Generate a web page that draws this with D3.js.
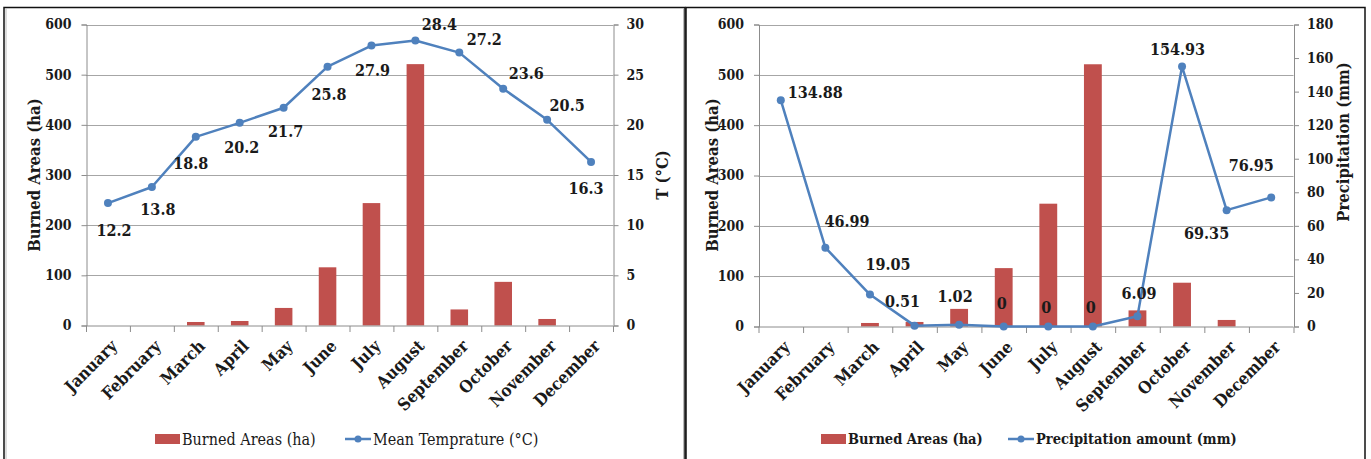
<!DOCTYPE html>
<html>
<head>
<meta charset="utf-8">
<script src="https://cdn.jsdelivr.net/npm/d3@7"></script>
<style>
  html, body { margin: 0; padding: 0; background: #ffffff; }
  svg { display: block; }
  text { font-family: "DejaVu Serif Condensed", "DejaVu Serif", serif; fill: #1a1a1a; }
</style>
</head>
<body>
<svg id="chart" width="1371" height="459"></svg>
<script>
// ---------- DATA ----------
const months = ["January","February","March","April","May","June","July","August","September","October","November","December"];
const burnedAreas = [0, 0, 7, 9, 35, 116, 244, 521, 32, 87, 13, 0];
const meanTemp = [12.2, 13.8, 18.8, 20.2, 21.7, 25.8, 27.9, 28.4, 27.2, 23.6, 20.5, 16.3];
const precipitation = [134.88, 46.99, 19.05, 0.51, 1.02, 0, 0, 0, 6.09, 154.93, 69.35, 76.95];
const burnedTicks = [0, 100, 200, 300, 400, 500, 600];
const tempTicks = [0, 5, 10, 15, 20, 25, 30];
const precipTicks = [0, 20, 40, 60, 80, 100, 120, 140, 160, 180];
const tempLabels = ["12.2","13.8","18.8","20.2","21.7","25.8","27.9","28.4","27.2","23.6","20.5","16.3"];
const precipLabels = ["134.88","46.99","19.05","0.51","1.02","0","0","0","6.09","154.93","69.35","76.95"];

// label offsets (dx, dy) relative to point, for label centre
const tempLabelOffsets = [[6,27],[6,22],[-5,27],[2,25],[2,24],[1.5,28],[1,25],[24,-16.5],[25,-13],[23,-15],[20,-14],[-5,26]];
const precipLabelOffsets = [[34.5,-7.5],[21.7,-26],[18,-30],[-12,-24],[-4,-28],[-2,-23],[-2,-19],[-2,-19],[1.5,-23],[-4.6,-17],[-20,23],[-20,-32]];

const RED = "#c0504d", BLUE = "#4f81bd", GRID = "#a6a6a6", AXIS = "#8c8c8c";
const FONT = '"DejaVu Serif Condensed", "DejaVu Serif", serif';

const svg = d3.select("#chart");

// panel borders
svg.append("rect").attr("x", 4).attr("y", 7.5).attr("width", 681).attr("height", 460)
  .attr("fill", "none").attr("stroke", "#111").attr("stroke-width", 1.5);
svg.append("rect").attr("x", 686).attr("y", 7.5).attr("width", 679).attr("height", 460)
  .attr("fill", "none").attr("stroke", "#111").attr("stroke-width", 1.5);
svg.append("line").attr("x1", 683.5).attr("x2", 683.5).attr("y1", 8).attr("y2", 459).attr("stroke", "#bbb").attr("stroke-width", 1);
svg.append("line").attr("x1", 6).attr("x2", 6).attr("y1", 8).attr("y2", 459).attr("stroke", "#bbb").attr("stroke-width", 1);

function drawPanel(cfg) {
  const g = svg.append("g");
  const x = d3.scaleBand().domain(months).range([cfg.x0, cfg.x1]).paddingInner(0).paddingOuter(0);
  const yL = d3.scaleLinear().domain([0, 600]).range([cfg.yb, cfg.yt]);
  const yR = d3.scaleLinear().domain([0, cfg.rMax]).range([cfg.yb, cfg.yt]);

  // gridlines
  g.append("g").selectAll("line").data(burnedTicks.filter(d => d > 0)).join("line")
    .attr("x1", cfg.x0).attr("x2", cfg.x1)
    .attr("y1", d => Math.round(yL(d)) + 0.5).attr("y2", d => Math.round(yL(d)) + 0.5)
    .attr("stroke", GRID).attr("stroke-width", 1);

  // bars
  const bw = x.bandwidth() * 0.4;
  g.append("g").selectAll("rect").data(burnedAreas).join("rect")
    .attr("x", (d, i) => x(months[i]) + (x.bandwidth() - bw) / 2)
    .attr("width", bw)
    .attr("y", d => yL(d))
    .attr("height", d => cfg.yb - yL(d))
    .attr("fill", RED);

  // left axis
  const axL = g.append("g").attr("transform", `translate(${cfg.x0 + 0.5},0)`)
    .call(d3.axisLeft(yL).tickValues(burnedTicks).tickSize(5).tickPadding(10));
  axL.select(".domain").attr("stroke", AXIS);
  axL.selectAll(".tick line").attr("stroke", AXIS);
  axL.selectAll(".tick text").attr("font-size", 14).attr("font-weight", "bold")
    .attr("font-family", FONT).attr("fill", "#1a1a1a");

  // right axis
  const axR = g.append("g").attr("transform", `translate(${cfg.x1 + 0.5},0)`)
    .call(d3.axisRight(yR).tickValues(cfg.rTicks).tickSize(5).tickPadding(8));
  axR.select(".domain").attr("stroke", AXIS);
  axR.selectAll(".tick line").attr("stroke", AXIS);
  axR.selectAll(".tick text").attr("font-size", 14).attr("font-weight", "bold")
    .attr("font-family", FONT).attr("fill", "#1a1a1a");

  // bottom axis
  const axB = g.append("g").attr("transform", `translate(0,${cfg.yb + 0.5})`);
  axB.append("line").attr("x1", cfg.x0).attr("x2", cfg.x1).attr("stroke", AXIS);
  axB.selectAll("line.tk").data(d3.range(months.length + 1)).join("line").attr("class", "tk")
    .attr("x1", i => (i < months.length ? x(months[i]) : cfg.x1) + 0.5)
    .attr("x2", i => (i < months.length ? x(months[i]) : cfg.x1) + 0.5)
    .attr("y1", 0).attr("y2", 6).attr("stroke", AXIS);
  axB.selectAll("text").data(months).join("text")
    .attr("transform", d => `translate(${x(d) + x.bandwidth() / 2 + 6},17) rotate(-45)`)
    .attr("text-anchor", "end").attr("dy", "0.35em")
    .attr("font-size", 16.8).attr("font-weight", "bold").text(d => d);

  // line series
  const vals = cfg.series;
  const line = d3.line().x((d, i) => x(months[i]) + x.bandwidth() / 2).y(d => yR(d));
  g.append("path").datum(vals).attr("d", line).attr("fill", "none")
    .attr("stroke", BLUE).attr("stroke-width", 2.5).attr("stroke-linejoin", "round");
  g.append("g").selectAll("circle").data(vals).join("circle")
    .attr("cx", (d, i) => x(months[i]) + x.bandwidth() / 2).attr("cy", d => yR(d))
    .attr("r", 4).attr("fill", BLUE);

  // data labels
  g.append("g").selectAll("text").data(vals).join("text")
    .attr("x", (d, i) => x(months[i]) + x.bandwidth() / 2 + cfg.offsets[i][0])
    .attr("y", (d, i) => yR(d) + cfg.offsets[i][1])
    .attr("dy", "0.35em").attr("text-anchor", "middle")
    .attr("font-size", 16).attr("font-weight", "bold")
    .text((d, i) => cfg.labels[i]);

  // axis titles
  g.append("text").attr("transform", `translate(${cfg.leftTitleX},${cfg.leftTitleY}) rotate(-90)`)
    .attr("text-anchor", "middle").attr("dy", "0.35em")
    .attr("font-size", 16.5).attr("font-weight", "bold").text("Burned Areas (ha)");
  g.append("text").attr("transform", `translate(${cfg.rightTitleX},${cfg.rightTitleY}) rotate(-90)`)
    .attr("text-anchor", "middle").attr("dy", "0.35em")
    .attr("font-size", 16.5).attr("font-weight", "bold").text(cfg.rightTitle);

  // legend
  const lg = g.append("g");
  lg.append("rect").attr("x", cfg.legRectX).attr("y", 434).attr("width", 25).attr("height", 10).attr("fill", RED);
  lg.append("text").attr("x", cfg.legRectX + 27).attr("y", 439).attr("dy", "0.35em")
    .attr("font-size", cfg.legSize).attr("font-weight", cfg.legWeight).text("Burned Areas (ha)");
  lg.append("line").attr("x1", cfg.legLineX).attr("x2", cfg.legLineX + 26).attr("y1", 439).attr("y2", 439)
    .attr("stroke", BLUE).attr("stroke-width", 2.5);
  lg.append("circle").attr("cx", cfg.legLineX + 13).attr("cy", 439).attr("r", 3.5).attr("fill", BLUE);
  lg.append("text").attr("x", cfg.legLineX + 28).attr("y", 439).attr("dy", "0.35em")
    .attr("font-size", cfg.legSize).attr("font-weight", cfg.legWeight).text(cfg.lineLegend);
}

drawPanel({
  x0: 86, x1: 613, yt: 24.5, yb: 325.5,
  rMax: 30, rTicks: tempTicks, series: meanTemp, labels: tempLabels, offsets: tempLabelOffsets,
  leftTitleX: 34, leftTitleY: 175, rightTitleX: 662, rightTitleY: 175, rightTitle: "T (°C)",
  legRectX: 155, legLineX: 345, legWeight: "normal", legSize: 16, lineLegend: "Mean Temprature (°C)"
});

drawPanel({
  x0: 758.5, x1: 1293.5, yt: 24.5, yb: 326.5,
  rMax: 180, rTicks: precipTicks, series: precipitation, labels: precipLabels, offsets: precipLabelOffsets,
  leftTitleX: 712, leftTitleY: 175, rightTitleX: 1343, rightTitleY: 142, rightTitle: "Precipitation (mm)",
  legRectX: 821, legLineX: 1008, legWeight: "bold", legSize: 14.5, lineLegend: "Precipitation amount (mm)"
});
</script>
</body>
</html>
